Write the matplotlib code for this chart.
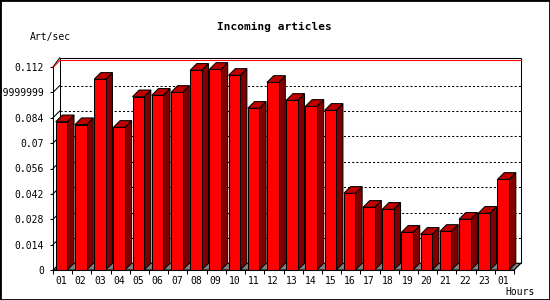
import matplotlib.pyplot as plt
from matplotlib.patches import Polygon, Rectangle

# horas y valores (art/sec)
hours = ['01', '02', '03', '04', '05', '06', '07', '08', '09', '10', '11', '12',
         '13', '14', '15', '16', '17', '18', '19', '20', '21', '22', '23', '01']
values = [0.0818, 0.0802, 0.1052, 0.0787, 0.0956, 0.0964, 0.0980, 0.1102,
          0.1107, 0.1074, 0.0892, 0.1035, 0.0936, 0.0903, 0.0881, 0.0423,
          0.0346, 0.0335, 0.0208, 0.0197, 0.0213, 0.0280, 0.0313, 0.0500]
yticks = [0, 0.014, 0.028, 0.042, 0.056, 0.07, 0.084, 0.098, 0.112]
ytick_labels = ['0', '0.014', '0.028', '0.042', '0.056', '0.07', '0.084',
                '0.09999999', '0.112']

FONT = 'DejaVu Sans Mono'
W, H = 550, 300
LW = 0.75
ymax = 0.112
n = len(values)

fig = plt.figure(figsize=(W / 100, H / 100), dpi=100)
ax = fig.add_axes([53 / W, 30 / H, 461 / W, 203 / H])
ax.set_xlim(0, n)
ax.set_ylim(0, ymax)
ax.patch.set_visible(False)

# profundidad 3D en unidades de datos
px_x = n / 461
px_y = ymax / 203
dx = 6.7 * px_x
dy = 6.7 * px_y

# pared del fondo
top = ymax + dy + 2.5 * px_y
ax.add_patch(Polygon([(dx, dy), (n + dx, dy), (n + dx, top), (dx, top)],
                     closed=True, fc='white', ec='black', lw=LW, zorder=1,
                     clip_on=False))
ax.plot([0, dx], [ymax, top], color='black', lw=LW, zorder=1, clip_on=False)
ax.plot([n, n + dx], [0, dy], color='black', lw=LW, zorder=1, clip_on=False)

# lineas de rejilla
for t in yticks[1:-1]:
    ax.plot([dx, n + dx], [t + dy, t + dy], color='black', lw=LW,
            dashes=(2, 2), zorder=2, clip_on=False)
    ax.plot([0, dx], [t, t + dy], color='black', lw=LW, zorder=2, clip_on=False)
ax.plot([dx, n + dx], [ymax + dy, ymax + dy], color='red', lw=LW, zorder=2,
        clip_on=False)
ax.plot([0, dx], [ymax - 0.8 * px_y, ymax + dy], color='red', lw=LW, zorder=2,
        clip_on=False)

# suelo
ax.add_patch(Polygon([(0, 0), (n, 0), (n + dx, dy), (dx, dy)], closed=True,
                     fc='#808080', ec='black', lw=LW, zorder=2, clip_on=False))

# barras
x0 = 2.7 * px_x
bw = 11.6 * px_x
for i, v in enumerate(values):
    a = i + x0
    b = a + bw
    ax.add_patch(Polygon([(b, 0), (b + dx, dy), (b + dx, v + dy), (b, v)],
                         closed=True, fc='#800000', ec='black', lw=LW,
                         zorder=3 + i * 0.01, clip_on=False))
    ax.add_patch(Polygon([(a, v), (a + dx, v + dy), (b + dx, v + dy), (b, v)],
                         closed=True, fc='#c00000', ec='black', lw=LW,
                         zorder=3 + i * 0.01, clip_on=False))
ax.bar([i + x0 for i in range(n)], values, width=bw, align='edge',
       color='#ff0000', edgecolor='black', linewidth=LW, zorder=4)

# ejes
for s in ['top', 'right']:
    ax.spines[s].set_visible(False)
for s in ['left', 'bottom']:
    ax.spines[s].set_linewidth(LW)
    ax.spines[s].set_zorder(5)

ax.set_yticks(yticks)
ax.set_yticklabels(ytick_labels, fontfamily=FONT, fontsize=7)
ax.tick_params(axis='y', length=2.2, width=LW, pad=4.3)

ax.set_xticks(range(n + 1))
ax.set_xticklabels([])
ax.tick_params(axis='x', which='major', length=3, width=LW)
ax.set_xticks([i + x0 + bw / 2 for i in range(n)], minor=True)
ax.set_xticklabels(hours, minor=True, fontfamily=FONT, fontsize=7)
ax.tick_params(axis='x', which='minor', length=0, pad=4)

# textos
fig.text(274 / W, 1 - 27 / H, 'Incoming articles', ha='center', va='center',
         fontfamily=FONT, fontsize=8, fontweight='bold')
fig.text(30 / W, 1 - 37 / H, 'Art/sec', ha='left', va='center',
         fontfamily=FONT, fontsize=7)
fig.text(535 / W, 1 - 292 / H, 'Hours', ha='right', va='center',
         fontfamily=FONT, fontsize=7)

# borde exterior
fig.patches.append(Rectangle((0, 0), 1, 1, transform=fig.transFigure,
                             fill=False, ec='black', lw=2))

fig.savefig('out.png', dpi=100)
